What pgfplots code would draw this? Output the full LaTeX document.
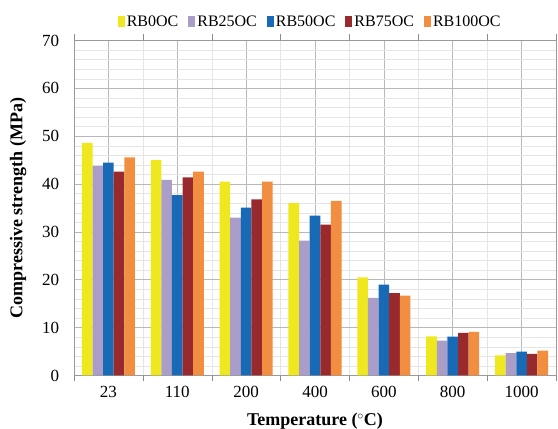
\documentclass[border=0pt]{standalone}
\usepackage{fontspec}
\setmainfont{Liberation Serif}
\usepackage{pgfplots}
\usepackage{pgfplotstable}
\pgfplotsset{compat=1.18}

\definecolor{cYel}{RGB}{240,232,30}
\definecolor{cLav}{RGB}{170,158,200}
\definecolor{cBlu}{RGB}{24,106,182}
\definecolor{cRed}{RGB}{152,42,46}
\definecolor{cOra}{RGB}{242,142,64}

% compressive strength (MPa) per temperature
\pgfplotstableread{
x  rb0  rb25 rb50 rb75 rb100
0  48.6 43.8 44.5 42.6 45.6
1  45.0 40.9 37.7 41.4 42.6
2  40.5 33.0 35.1 36.8 40.5
3  36.0 28.2 33.4 31.5 36.5
4  20.5 16.2 19.0 17.2 16.7
5  8.2  7.3  8.1  8.9  9.1
6  4.2  4.7  5.0  4.5  5.2
}\strength

\begin{document}
\begin{tikzpicture}
\begin{axis}[
    width=482pt, height=335pt,
    scale only axis,
    ybar=0pt,
    bar width=0.154,
    xmin=-0.5, xmax=6.5,
    ymin=0, ymax=70,
    xtick={0,...,6},
    xticklabels={23,110,200,400,600,800,1000},
    minor xtick={-0.5,0.5,...,6.5},
    ytick={0,10,...,70},
    minor y tick num=4,
    grid=both,
    major grid style={draw=black!28, line width=0.6pt},
    minor grid style={draw=black!10, line width=0.4pt},
    xmajorgrids=true, xminorgrids=true,
    ymajorgrids=true, yminorgrids=true,
    xtick style={draw=none},
    ytick style={draw=none},
    minor x tick style={draw=black!45},
    minor tick length=6pt,
    tick align=outside,
    axis line style={draw=black!40},
    tick label style={font=\rmfamily\fontsize{17}{19}\selectfont},
    xticklabel style={yshift=-3pt},
    yticklabel style={xshift=-7pt},
    xlabel={\textbf{Temperature (${}^{\circ}$C)}},
    ylabel={\textbf{Compressive strength (MPa)}},
    label style={font=\rmfamily\fontsize{18}{20}\selectfont},
    xlabel style={at={(axis description cs:0.5,-0.137)}, anchor=center},
    ylabel style={at={(axis description cs:-0.116,0.5)}, anchor=center},
    legend columns=5,
    legend style={draw=none, fill=none, at={(axis description cs:0.49,1.056)}, anchor=center,
        font=\rmfamily\fontsize{16}{18}\selectfont, inner sep=0pt,
        /tikz/every odd column/.append style={column sep=0pt},
        /tikz/every even column/.append style={column sep=8pt}},
    legend image code/.code={\fill[#1] (0pt,-5.5pt) rectangle (7pt,5.5pt);},
    /pgf/number format/assume math mode=true,
]
\addplot[fill=cYel, draw=none] table[x=x, y=rb0] {\strength};
\addplot[fill=cLav, draw=none] table[x=x, y=rb25] {\strength};
\addplot[fill=cBlu, draw=none] table[x=x, y=rb50] {\strength};
\addplot[fill=cRed, draw=none] table[x=x, y=rb75] {\strength};
\addplot[fill=cOra, draw=none] table[x=x, y=rb100] {\strength};
\legend{RB0OC,RB25OC,RB50OC,RB75OC,RB100OC}
\end{axis}
\pgfresetboundingbox
\useasboundingbox ([xshift=-74pt,yshift=-53.5pt]current axis.south west)
    rectangle ([xshift=2pt,yshift=40.5pt]current axis.north east);
\end{tikzpicture}
\end{document}
